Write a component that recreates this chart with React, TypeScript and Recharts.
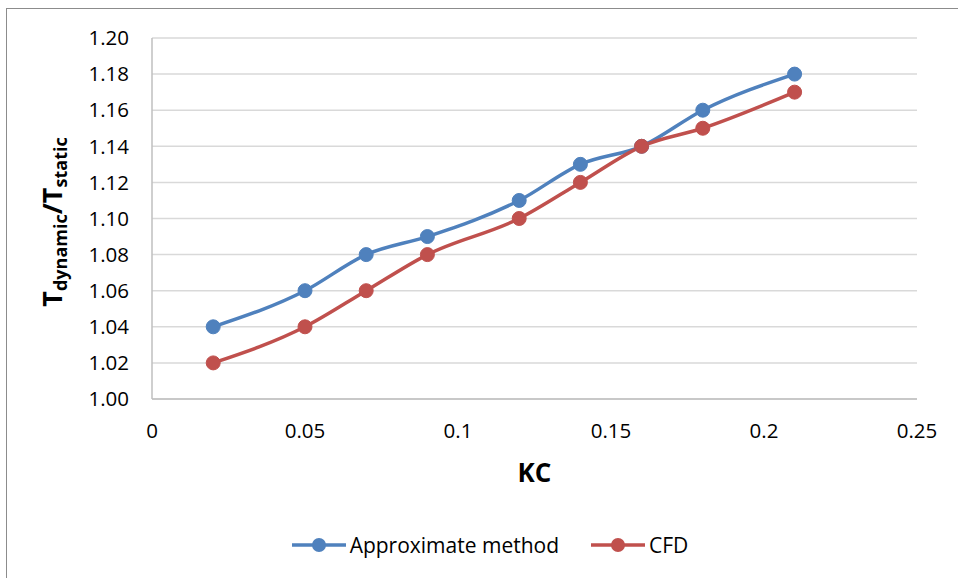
import React from "react";
import {
  LineChart,
  Line,
  XAxis,
  YAxis,
  CartesianGrid,
  Legend,
} from "recharts";

// KC values (x) and the two measured ratios
const kcValues = [0.02, 0.05, 0.07, 0.09, 0.12, 0.14, 0.16, 0.18, 0.21];
const approximate = [1.04, 1.06, 1.08, 1.09, 1.11, 1.13, 1.14, 1.16, 1.18];
const cfd = [1.02, 1.04, 1.06, 1.08, 1.1, 1.12, 1.14, 1.15, 1.17];

const xTicks = [0, 0.05, 0.1, 0.15, 0.2, 0.25];
const yTicks = [1.0, 1.02, 1.04, 1.06, 1.08, 1.1, 1.12, 1.14, 1.16, 1.18, 1.2];

const seriesNames = ["Approximate method", "CFD"];
const BLUE = "#4f81bd";
const RED = "#c0504d";

const FONT = "'Open Sans', sans-serif";

const data = kcValues.map((kc, i) => ({
  kc,
  approx: approximate[i],
  cfd: cfd[i],
}));

const YLabel = () => (
  <text
    x={0}
    y={0}
    transform="translate(62, 222) rotate(-90)"
    textAnchor="middle"
    fontFamily={FONT}
    fontWeight="bold"
    fill="#000"
  >
    <tspan fontSize={27}>T</tspan>
    <tspan fontSize={18} dy={5}>dynamic</tspan>
    <tspan fontSize={27} dy={-5}>/T</tspan>
    <tspan fontSize={18} dy={5}>static</tspan>
  </text>
);

const XLabel = (props: any) => {
  const vb = props.viewBox || { x: 152, y: 399, width: 765 };
  return (
    <text
      x={vb.x + vb.width / 2}
      y={482}
      textAnchor="middle"
      fontFamily={FONT}
      fontWeight="bold"
      fontSize={26}
      fill="#000"
    >
      KC
    </text>
  );
};

const LegendContent = () => (
  <div
    style={{
      display: "flex",
      justifyContent: "center",
      alignItems: "center",
      fontFamily: FONT,
      fontSize: 21,
      color: "#000",
      paddingLeft: 22,
    }}
  >
    {[BLUE, RED].map((c, i) => (
      <div
        key={i}
        style={{ display: "flex", alignItems: "center", marginRight: i === 0 ? 32 : 0 }}
      >
        <svg width={54} height={16} style={{ marginRight: 4 }}>
          <line x1={0} y1={8} x2={54} y2={8} stroke={c} strokeWidth={3.5} />
          <circle cx={27} cy={8} r={7} fill={c} />
        </svg>
        <span>{seriesNames[i]}</span>
      </div>
    ))}
  </div>
);

export default function App() {
  return (
    <div
      style={{
        position: "absolute",
        left: 0,
        top: 0,
        width: 958,
        height: 578,
        background: "#fff",
        overflow: "hidden",
      }}
    >
      <div
        style={{
          position: "absolute",
          left: 6,
          top: 8,
          width: 1000,
          height: 600,
          borderTop: "1.5px solid #8c8c8c",
          borderLeft: "1.5px solid #8c8c8c",
        }}
      />
      <div style={{ position: "absolute", left: 0, top: 0 }}>
        <LineChart
          width={958}
          height={578}
          data={data}
          margin={{ top: 38, right: 41, bottom: 119, left: 52 }}
        >
          <CartesianGrid vertical={false} stroke="#d9d9d9" strokeWidth={1.5} />
          <XAxis
            dataKey="kc"
            type="number"
            domain={[0, 0.25]}
            ticks={xTicks}
            tickFormatter={(v: number) => String(v)}
            axisLine={{ stroke: "#bfbfbf", strokeWidth: 1.5 }}
            tickLine={false}
            tickSize={0}
            tickMargin={24}
            height={60}
            tick={{ fill: "#000", fontSize: 20.5, fontFamily: FONT }}
            label={{ content: XLabel }}
          />
          <YAxis
            type="number"
            domain={[1.0, 1.2]}
            ticks={yTicks}
            tickFormatter={(v: number) => v.toFixed(2)}
            axisLine={{ stroke: "#bfbfbf", strokeWidth: 1.5 }}
            tickLine={false}
            tickSize={0}
            tickMargin={23}
            width={100}
            tick={{ fill: "#000", fontSize: 20.5, fontFamily: FONT }}
            label={{ content: YLabel }}
          />
          <Legend
            layout="horizontal"
            verticalAlign="middle"
            align="center"
            content={LegendContent}
            wrapperStyle={{ top: 531, left: 0, width: 958 }}
          />
          <Line
            type="monotone"
            dataKey="approx"
            name={seriesNames[0]}
            stroke={BLUE}
            strokeWidth={3.5}
            dot={{ r: 7, fill: BLUE, stroke: BLUE, strokeWidth: 1 }}
            activeDot={false}
            isAnimationActive={false}
          />
          <Line
            type="monotone"
            dataKey="cfd"
            name={seriesNames[1]}
            stroke={RED}
            strokeWidth={3.5}
            dot={{ r: 7, fill: RED, stroke: RED, strokeWidth: 1 }}
            activeDot={false}
            isAnimationActive={false}
          />
        </LineChart>
      </div>
    </div>
  );
}
